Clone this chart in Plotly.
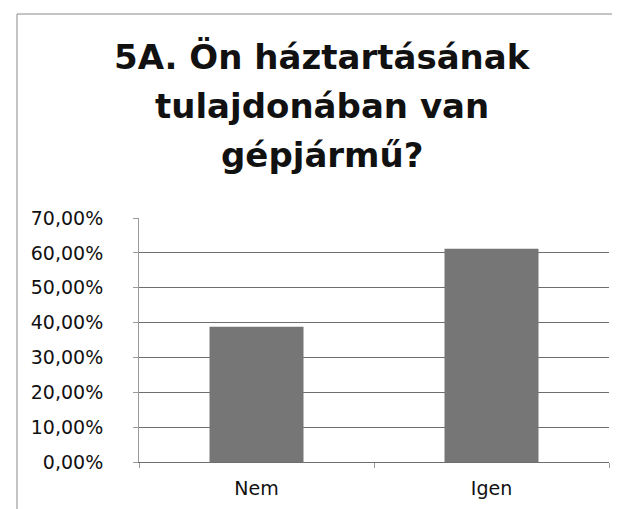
import plotly.graph_objects as go

categories = ["Nem", "Igen"]
values = [38.8, 61.2]
tick_vals = [0, 10, 20, 30, 40, 50, 60, 70]
tick_text = ["0,00%", "10,00%", "20,00%", "30,00%", "40,00%", "50,00%", "60,00%", "70,00%"]
title_lines = ["5A. Ön háztartásának", "tulajdonában van", "gépjármű?"]
title_y = [1.66, 1.457, 1.258]

FONT = "DejaVu Sans"

fig = go.Figure(
    go.Bar(
        x=categories,
        y=values,
        marker=dict(color="#767676", line=dict(width=0)),
        width=0.4,
    )
)

fig.update_layout(
    width=620,
    height=509,
    margin=dict(l=131, r=19, t=210, b=55),
    paper_bgcolor="white",
    plot_bgcolor="white",
    showlegend=False,
    font=dict(family=FONT, color="#111111"),
    bargap=0.6,
)

for line, yy in zip(title_lines, title_y):
    fig.add_annotation(
        text="<b>" + line + "</b>",
        xref="paper", yref="paper",
        x=0.39, y=yy,
        xanchor="center", yanchor="middle",
        showarrow=False,
        font=dict(family=FONT, size=34, color="#111111"),
    )

fig.update_yaxes(
    range=[0, 70],
    tickvals=tick_vals,
    ticktext=tick_text,
    showgrid=True,
    gridcolor="#6e6e6e",
    gridwidth=1,
    zeroline=False,
    showline=True,
    linecolor="#9a9a9a",
    linewidth=1,
    ticks="outside",
    ticklen=5,
    tickcolor="#9a9a9a",
    tickfont=dict(family=FONT, size=19, color="#111111"),
    ticklabelstandoff=26,
)
fig.update_xaxes(
    showline=True,
    linecolor="#6e6e6e",
    linewidth=1,
    ticks="outside",
    tickson="boundaries",
    ticklen=5,
    tickcolor="#9a9a9a",
    tickfont=dict(family=FONT, size=19, color="#111111"),
    ticklabelstandoff=9,
)

# outer chart frame
fig.add_shape(type="line", xref="paper", yref="paper",
              x0=-0.2596, x1=1.04, y0=1.836, y1=1.836,
              line=dict(color="#8a8a8a", width=1))
fig.add_shape(type="line", xref="paper", yref="paper",
              x0=-0.2596, x1=-0.2596, y0=1.836, y1=-0.23,
              line=dict(color="#8a8a8a", width=1))

fig.write_html("out.html")
